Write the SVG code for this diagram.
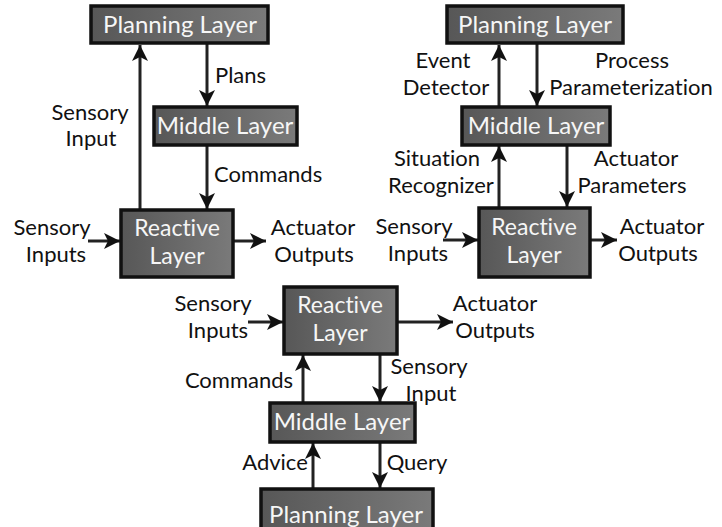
<svg xmlns="http://www.w3.org/2000/svg" width="722" height="527" viewBox="0 0 722 527">
<defs>
<linearGradient id="g" x1="0" y1="0" x2="1" y2="0">
<stop offset="0" stop-color="#575757"/>
<stop offset="1" stop-color="#7a7a7a"/>
</linearGradient>
<marker id="ah" markerUnits="userSpaceOnUse" markerWidth="17" markerHeight="16" refX="16" refY="8" orient="auto" viewBox="0 0 17 16">
<path d="M0,0 L16,8 L0,16 L4,8 Z" fill="#111"/>
</marker>
<style>
text{font-variant-ligatures:none;font-family:Lato,"Open Sans",sans-serif}
.box{fill:url(#g);stroke:#111;stroke-width:3.5}
.bt{font-size:24px;fill:#f6f6f6;text-anchor:middle}
.b2{font-size:23px}
.lb{font-size:22px;fill:#111;text-anchor:middle}
.st{text-anchor:start}
.ln{stroke:#222;stroke-width:3;fill:none;marker-end:url(#ah)}
</style>
</defs>
<rect width="722" height="527" fill="#fff"/>

<g id="connectors">
<!-- panel 1 -->
<line class="ln" x1="140" y1="210" x2="140" y2="45"/>
<line class="ln" x1="207" y1="44" x2="207" y2="106"/>
<line class="ln" x1="207" y1="145" x2="207" y2="209"/>
<line class="ln" x1="88" y1="241" x2="120" y2="241"/>
<line class="ln" x1="233" y1="241" x2="266" y2="241"/>
<!-- panel 2 -->
<line class="ln" x1="499" y1="107" x2="499" y2="45"/>
<line class="ln" x1="537" y1="44" x2="537" y2="106"/>
<line class="ln" x1="499" y1="208" x2="499" y2="146"/>
<line class="ln" x1="567" y1="145" x2="567" y2="207"/>
<line class="ln" x1="443" y1="240" x2="478" y2="240"/>
<line class="ln" x1="590" y1="240" x2="617" y2="240"/>
<!-- panel 3 -->
<line class="ln" x1="248" y1="322" x2="283" y2="322"/>
<line class="ln" x1="397" y1="322" x2="453" y2="322"/>
<line class="ln" x1="303" y1="403" x2="303" y2="355"/>
<line class="ln" x1="380" y1="354" x2="380" y2="402"/>
<line class="ln" x1="313" y1="489" x2="313" y2="443"/>
<line class="ln" x1="380" y1="442" x2="380" y2="488"/>
</g>

<g id="p1-planning"><rect class="box" x="91" y="6" width="177" height="37"/><text class="bt" x="180" y="33">Planning Layer</text></g>
<g id="p1-middle"><rect class="box" x="154" y="107" width="143" height="38"/><text class="bt" x="225" y="134">Middle Layer</text></g>
<g id="p1-reactive"><rect class="box" x="121" y="210" width="112" height="67"/><text class="bt b2" x="177" y="236">Reactive</text><text class="bt b2" x="177" y="264">Layer</text></g>

<g id="p2-planning"><rect class="box" x="447" y="6" width="176" height="37"/><text class="bt" x="535" y="33">Planning Layer</text></g>
<g id="p2-middle"><rect class="box" x="462" y="107" width="148" height="38"/><text class="bt" x="536" y="134">Middle Layer</text></g>
<g id="p2-reactive"><rect class="box" x="479" y="208" width="111" height="69"/><text class="bt b2" x="534" y="235">Reactive</text><text class="bt b2" x="534" y="263">Layer</text></g>

<g id="p3-reactive"><rect class="box" x="284" y="287" width="113" height="67"/><text class="bt b2" x="340" y="313">Reactive</text><text class="bt b2" x="340" y="341">Layer</text></g>
<g id="p3-middle"><rect class="box" x="270" y="403" width="145" height="39"/><text class="bt" x="342" y="430">Middle Layer</text></g>
<g id="p3-planning"><rect class="box" x="261" y="489" width="172" height="42"/><text class="bt" x="346" y="523">Planning Layer</text></g>

<g id="labels">
<text class="lb st" x="215" y="83">Plans</text>
<text class="lb" x="90" y="119.5">Sensory</text><text class="lb" x="91" y="146">Input</text>
<text class="lb st" x="214" y="182">Commands</text>
<text class="lb" x="52" y="235">Sensory</text><text class="lb" x="56" y="261.5">Inputs</text>
<text class="lb" x="313" y="235">Actuator</text><text class="lb" x="314" y="261.5">Outputs</text>

<text class="lb" x="443" y="68">Event</text><text class="lb" x="446" y="94.5">Detector</text>
<text class="lb" x="632" y="68">Process</text><text class="lb" x="631" y="94.5">Parameterization</text>
<text class="lb" x="437" y="166">Situation</text><text class="lb" x="441" y="192.5">Recognizer</text>
<text class="lb" x="636" y="166">Actuator</text><text class="lb" x="632" y="192.5">Parameters</text>
<text class="lb" x="414" y="234">Sensory</text><text class="lb" x="418" y="260.5">Inputs</text>
<text class="lb" x="662" y="234">Actuator</text><text class="lb" x="658" y="260.5">Outputs</text>

<text class="lb" x="213" y="311">Sensory</text><text class="lb" x="218" y="337.5">Inputs</text>
<text class="lb" x="495" y="311">Actuator</text><text class="lb" x="495" y="337.5">Outputs</text>
<text class="lb" x="239" y="388">Commands</text>
<text class="lb" x="429" y="374">Sensory</text><text class="lb" x="431" y="400.5">Input</text>
<text class="lb" x="275" y="470">Advice</text>
<text class="lb" x="417" y="470">Query</text>
</g>
</svg>
